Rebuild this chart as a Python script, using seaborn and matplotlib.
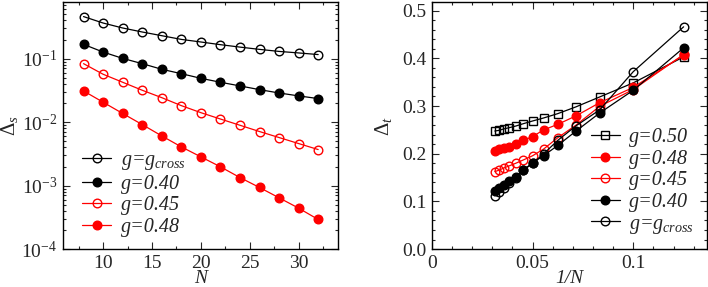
import matplotlib
matplotlib.use('Agg')
import matplotlib.pyplot as plt
import seaborn as sns
import numpy as np
from matplotlib.ticker import MultipleLocator, LogLocator, NullFormatter

# data
n_sizes = [8, 10, 12, 14, 16, 18, 20, 22, 24, 26, 28, 30, 32]

# left panel: Delta_s vs N
ds_cross = [0.46, 0.364, 0.304, 0.263, 0.230, 0.201, 0.183, 0.166, 0.152, 0.140, 0.130, 0.123, 0.116]
ds_040 = [0.168, 0.127, 0.101, 0.0834, 0.068, 0.058, 0.049, 0.0425, 0.0372, 0.0325, 0.0288, 0.0259, 0.0235]
ds_045 = [0.0834, 0.0568, 0.0425, 0.0318, 0.0243, 0.0182, 0.0141, 0.0112, 0.00893, 0.00711, 0.00572, 0.00460, 0.00370]
ds_048 = [0.0310, 0.0206, 0.0137, 0.00916, 0.00607, 0.00408, 0.00284, 0.00198, 0.00134, 0.000935, 0.000643, 0.000442, 0.000293]

# right panel: Delta_t vs 1/N
dt_050 = [0.403, 0.3485, 0.319, 0.298, 0.284, 0.275, 0.2686, 0.263, 0.258, 0.2546, 0.252, 0.249, 0.2475]
dt_048 = [0.4067, 0.339, 0.307, 0.279, 0.2616, 0.250, 0.236, 0.228, 0.2195, 0.215, 0.212, 0.209, 0.2065]
dt_045 = [0.408, 0.3345, 0.2994, 0.2595, 0.2335, 0.210, 0.1957, 0.187, 0.180, 0.1746, 0.170, 0.1655, 0.1625]
dt_040 = [0.422, 0.333, 0.2854, 0.247, 0.2174, 0.196, 0.181, 0.166, 0.152, 0.1438, 0.135, 0.128, 0.1225]
dt_cross = [0.466, 0.372, 0.292, 0.258, 0.228, 0.200, 0.180, 0.165, 0.150, 0.138, 0.128, 0.120, 0.112]

lbl_cross = 'g=$g_{cross}$'

sns.set_style('ticks')
plt.rcParams['font.family'] = ['Liberation Serif', 'DejaVu Serif']
plt.rcParams['mathtext.fontset'] = 'custom'
plt.rcParams['mathtext.rm'] = 'Liberation Serif'
plt.rcParams['mathtext.it'] = 'Liberation Serif:italic'
plt.rcParams['font.size'] = 14

fig = plt.figure(figsize=(7.08, 2.87), dpi=100)
ax1 = fig.add_axes([0.089, 0.132, 0.388, 0.861])
ax2 = fig.add_axes([0.610, 0.132, 0.388, 0.861])

ms = 6.2


def draw(ax, x, y, color, filled, marker, label):
    sns.lineplot(x=x, y=y, ax=ax, color=color, marker=marker, markersize=ms,
                 markerfacecolor=color if filled else 'none',
                 markeredgecolor=color, markeredgewidth=1.0, linewidth=0.9,
                 label=label, sort=False)


draw(ax1, n_sizes, ds_cross, 'black', False, 'o', lbl_cross)
draw(ax1, n_sizes, ds_040, 'black', True, 'o', 'g=0.40')
draw(ax1, n_sizes, ds_045, 'red', False, 'o', 'g=0.45')
draw(ax1, n_sizes, ds_048, 'red', True, 'o', 'g=0.48')

inv_n = 1.0 / np.array(n_sizes)
draw(ax2, inv_n, dt_050, 'black', False, 's', 'g=0.50')
draw(ax2, inv_n, dt_048, 'red', True, 'o', 'g=0.48')
draw(ax2, inv_n, dt_045, 'red', False, 'o', 'g=0.45')
draw(ax2, inv_n, dt_040, 'black', True, 'o', 'g=0.40')
draw(ax2, inv_n, dt_cross, 'black', False, 'o', lbl_cross)

ax1.set_yscale('log')
ax1.set_xlim(5.9, 34)
ax1.set_ylim(1e-4, 0.78)
ax1.xaxis.set_major_locator(MultipleLocator(5))
ax1.xaxis.set_minor_locator(MultipleLocator(2.5))
ax1.yaxis.set_major_locator(LogLocator(base=10, numticks=10))
ax1.yaxis.set_minor_locator(LogLocator(base=10, subs=np.arange(2, 10), numticks=10))
ax1.yaxis.set_minor_formatter(NullFormatter())
ax1.set_xlabel('N', fontstyle='italic', fontsize=14, labelpad=-1)
ax1.set_ylabel(r'$\Delta_s$', fontsize=15, labelpad=1)

ax2.set_xlim(0, 0.1364)
ax2.set_ylim(0, 0.518)
ax2.xaxis.set_major_locator(MultipleLocator(0.05))
ax2.xaxis.set_minor_locator(MultipleLocator(0.01))
ax2.yaxis.set_major_locator(MultipleLocator(0.1))
ax2.yaxis.set_minor_locator(MultipleLocator(0.02))
ax2.xaxis.set_major_formatter(plt.FuncFormatter(lambda v, p: '0' if v == 0 else f'{v:g}'))
ax2.yaxis.set_major_formatter(plt.FuncFormatter(lambda v, p: f'{v:.1f}'))
ax2.set_xlabel('1/N', fontstyle='italic', fontsize=14, labelpad=-1)
ax2.set_ylabel(r'$\Delta_t$', fontsize=15, labelpad=6)

for ax in (ax1, ax2):
    ax.tick_params(which='both', direction='in', top=True, right=True, width=0.8,
                   labelsize=14)
    ax.tick_params(which='major', length=5, pad=4)
    ax.tick_params(which='minor', length=2.5)
    for sp in ax.spines.values():
        sp.set_linewidth(1.0)
        sp.set_color('black')

leg_kw = dict(frameon=False, handlelength=1.45, handletextpad=0.45,
              labelspacing=0.12, borderpad=0, borderaxespad=0,
              prop={'style': 'italic', 'size': 14.5})
ax1.legend(loc='lower left', bbox_to_anchor=(0.07, 0.05), **leg_kw)
ax2.legend(loc='lower left', bbox_to_anchor=(0.578, 0.055), **leg_kw)

fig.savefig('out.png', dpi=100)
